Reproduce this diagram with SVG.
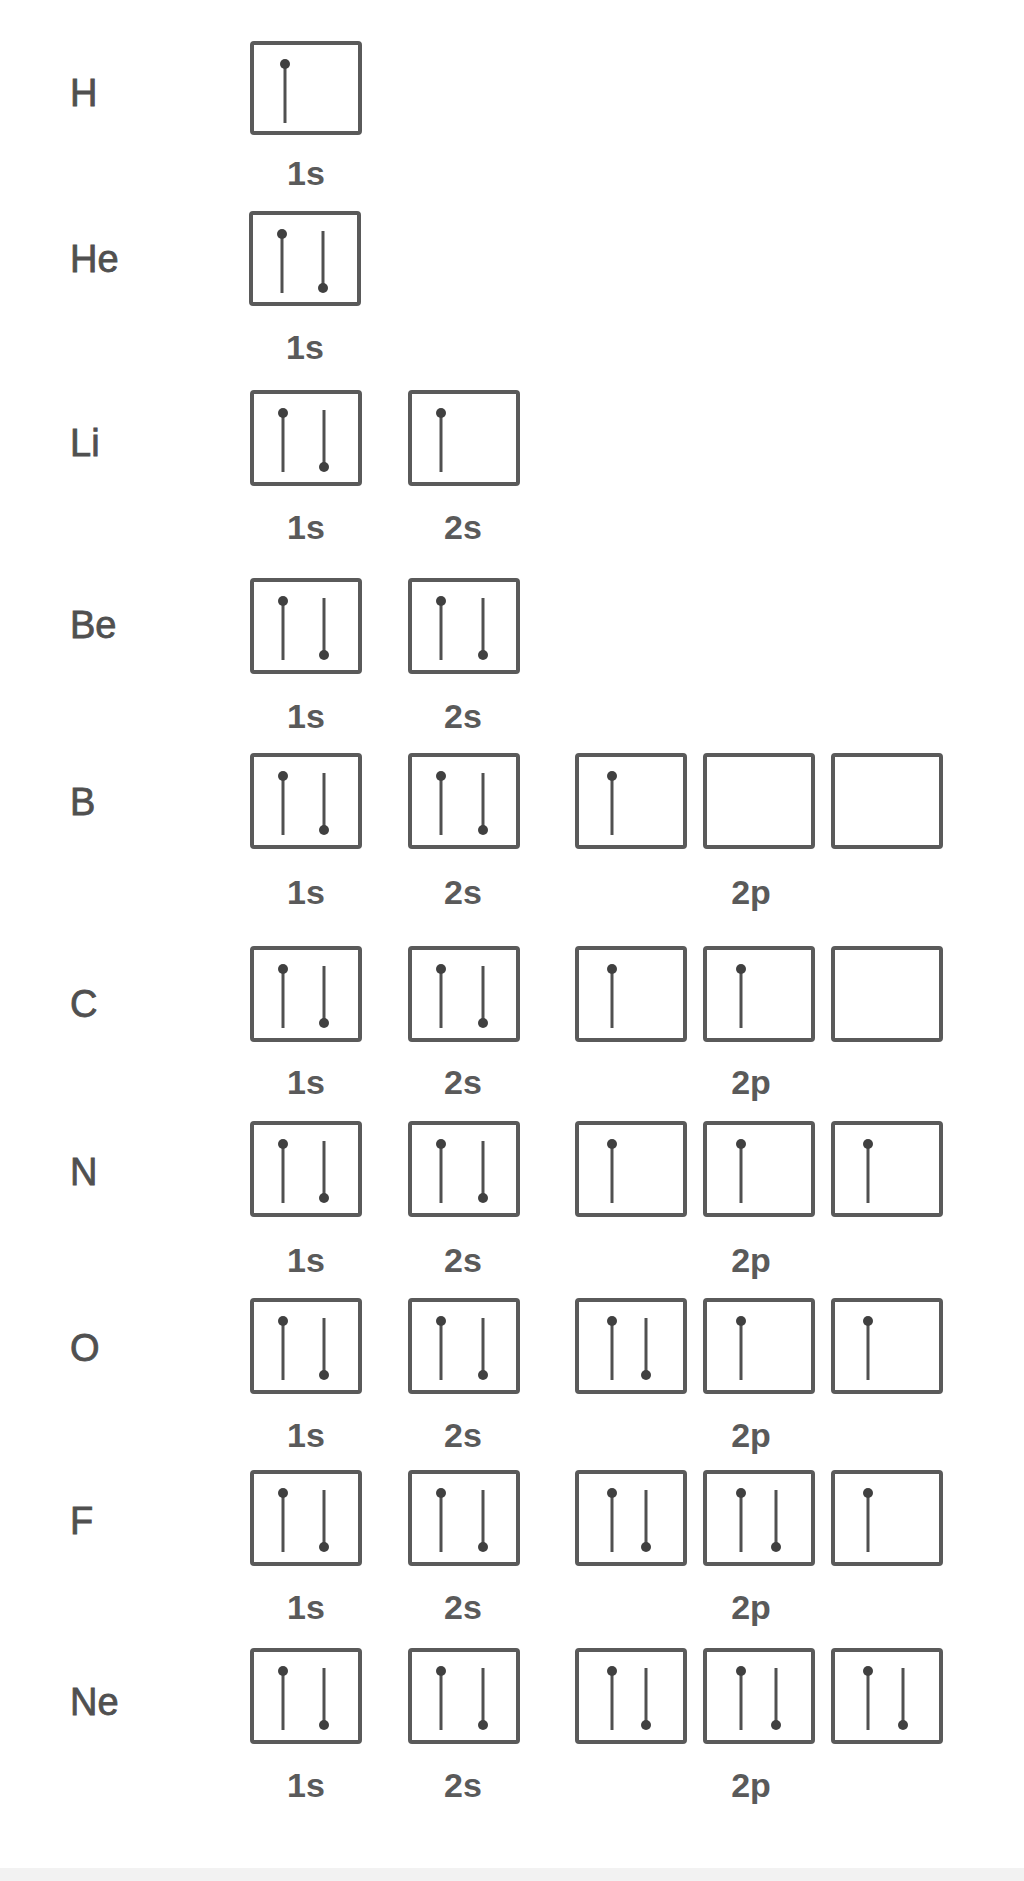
<svg xmlns="http://www.w3.org/2000/svg" xmlns:xlink="http://www.w3.org/1999/xlink" width="1024" height="1881" viewBox="0 0 1024 1881">
<style>
.bx{fill:none;stroke:#5a5a5a;stroke-width:4;}
.el{font-family:"Liberation Sans",Arial,sans-serif;font-size:38px;fill:#505050;stroke:#505050;stroke-width:0.8;}
.ob{font-family:"Liberation Sans",Arial,sans-serif;font-size:34px;fill:#5a5a5a;text-anchor:middle;font-weight:bold;}
.ar{stroke:#505050;stroke-width:3;fill:none;}
.hd{fill:#404040;}
</style>
<defs>
<g id="up"><line class="ar" x1="0" y1="21" x2="0" y2="80"/><circle class="hd" cx="0" cy="21" r="5"/></g>
<g id="dn"><line class="ar" x1="0" y1="18" x2="0" y2="75"/><circle class="hd" cx="0" cy="75" r="5"/></g>
</defs>
<rect x="0" y="0" width="1024" height="1881" fill="#ffffff"/>
<rect x="0" y="1868" width="1024" height="13" fill="#f2f2f2"/>

<g id="H">
<text class="el" x="70" y="106">H</text>
<rect class="bx" x="252" y="43" width="108" height="90" rx="2"/>
<use href="#up" x="285" y="43"/>
<text class="ob" x="306" y="185">1s</text>
</g>

<g id="He">
<text class="el" x="70" y="272">He</text>
<rect class="bx" x="251" y="213" width="108" height="91" rx="2"/>
<use href="#up" x="282" y="213"/><use href="#dn" x="323" y="213"/>
<text class="ob" x="305" y="359">1s</text>
</g>

<g id="Li">
<text class="el" x="70" y="456">Li</text>
<rect class="bx" x="252" y="392" width="108" height="92" rx="2"/>
<use href="#up" x="283" y="392"/><use href="#dn" x="324" y="392"/>
<rect class="bx" x="410" y="392" width="108" height="92" rx="2"/>
<use href="#up" x="441" y="392"/>
<text class="ob" x="306" y="539">1s</text>
<text class="ob" x="463" y="539">2s</text>
</g>

<g id="Be">
<text class="el" x="70" y="638">Be</text>
<rect class="bx" x="252" y="580" width="108" height="92" rx="2"/>
<use href="#up" x="283" y="580"/><use href="#dn" x="324" y="580"/>
<rect class="bx" x="410" y="580" width="108" height="92" rx="2"/>
<use href="#up" x="441" y="580"/><use href="#dn" x="483" y="580"/>
<text class="ob" x="306" y="728">1s</text>
<text class="ob" x="463" y="728">2s</text>
</g>

<g id="B">
<text class="el" x="70" y="815">B</text>
<rect class="bx" x="252" y="755" width="108" height="92" rx="2"/>
<use href="#up" x="283" y="755"/><use href="#dn" x="324" y="755"/>
<rect class="bx" x="410" y="755" width="108" height="92" rx="2"/>
<use href="#up" x="441" y="755"/><use href="#dn" x="483" y="755"/>
<rect class="bx" x="577" y="755" width="108" height="92" rx="2"/>
<use href="#up" x="612" y="755"/>
<rect class="bx" x="705" y="755" width="108" height="92" rx="2"/>
<rect class="bx" x="833" y="755" width="108" height="92" rx="2"/>
<text class="ob" x="306" y="904">1s</text>
<text class="ob" x="463" y="904">2s</text>
<text class="ob" x="751" y="904">2p</text>
</g>

<g id="C">
<text class="el" x="70" y="1017">C</text>
<rect class="bx" x="252" y="948" width="108" height="92" rx="2"/>
<use href="#up" x="283" y="948"/><use href="#dn" x="324" y="948"/>
<rect class="bx" x="410" y="948" width="108" height="92" rx="2"/>
<use href="#up" x="441" y="948"/><use href="#dn" x="483" y="948"/>
<rect class="bx" x="577" y="948" width="108" height="92" rx="2"/>
<use href="#up" x="612" y="948"/>
<rect class="bx" x="705" y="948" width="108" height="92" rx="2"/>
<use href="#up" x="741" y="948"/>
<rect class="bx" x="833" y="948" width="108" height="92" rx="2"/>
<text class="ob" x="306" y="1094">1s</text>
<text class="ob" x="463" y="1094">2s</text>
<text class="ob" x="751" y="1094">2p</text>
</g>

<g id="N">
<text class="el" x="70" y="1185">N</text>
<rect class="bx" x="252" y="1123" width="108" height="92" rx="2"/>
<use href="#up" x="283" y="1123"/><use href="#dn" x="324" y="1123"/>
<rect class="bx" x="410" y="1123" width="108" height="92" rx="2"/>
<use href="#up" x="441" y="1123"/><use href="#dn" x="483" y="1123"/>
<rect class="bx" x="577" y="1123" width="108" height="92" rx="2"/>
<use href="#up" x="612" y="1123"/>
<rect class="bx" x="705" y="1123" width="108" height="92" rx="2"/>
<use href="#up" x="741" y="1123"/>
<rect class="bx" x="833" y="1123" width="108" height="92" rx="2"/>
<use href="#up" x="868" y="1123"/>
<text class="ob" x="306" y="1272">1s</text>
<text class="ob" x="463" y="1272">2s</text>
<text class="ob" x="751" y="1272">2p</text>
</g>

<g id="O">
<text class="el" x="70" y="1361">O</text>
<rect class="bx" x="252" y="1300" width="108" height="92" rx="2"/>
<use href="#up" x="283" y="1300"/><use href="#dn" x="324" y="1300"/>
<rect class="bx" x="410" y="1300" width="108" height="92" rx="2"/>
<use href="#up" x="441" y="1300"/><use href="#dn" x="483" y="1300"/>
<rect class="bx" x="577" y="1300" width="108" height="92" rx="2"/>
<use href="#up" x="612" y="1300"/><use href="#dn" x="646" y="1300"/>
<rect class="bx" x="705" y="1300" width="108" height="92" rx="2"/>
<use href="#up" x="741" y="1300"/>
<rect class="bx" x="833" y="1300" width="108" height="92" rx="2"/>
<use href="#up" x="868" y="1300"/>
<text class="ob" x="306" y="1447">1s</text>
<text class="ob" x="463" y="1447">2s</text>
<text class="ob" x="751" y="1447">2p</text>
</g>

<g id="F">
<text class="el" x="70" y="1534">F</text>
<rect class="bx" x="252" y="1472" width="108" height="92" rx="2"/>
<use href="#up" x="283" y="1472"/><use href="#dn" x="324" y="1472"/>
<rect class="bx" x="410" y="1472" width="108" height="92" rx="2"/>
<use href="#up" x="441" y="1472"/><use href="#dn" x="483" y="1472"/>
<rect class="bx" x="577" y="1472" width="108" height="92" rx="2"/>
<use href="#up" x="612" y="1472"/><use href="#dn" x="646" y="1472"/>
<rect class="bx" x="705" y="1472" width="108" height="92" rx="2"/>
<use href="#up" x="741" y="1472"/><use href="#dn" x="776" y="1472"/>
<rect class="bx" x="833" y="1472" width="108" height="92" rx="2"/>
<use href="#up" x="868" y="1472"/>
<text class="ob" x="306" y="1619">1s</text>
<text class="ob" x="463" y="1619">2s</text>
<text class="ob" x="751" y="1619">2p</text>
</g>

<g id="Ne">
<text class="el" x="70" y="1715">Ne</text>
<rect class="bx" x="252" y="1650" width="108" height="92" rx="2"/>
<use href="#up" x="283" y="1650"/><use href="#dn" x="324" y="1650"/>
<rect class="bx" x="410" y="1650" width="108" height="92" rx="2"/>
<use href="#up" x="441" y="1650"/><use href="#dn" x="483" y="1650"/>
<rect class="bx" x="577" y="1650" width="108" height="92" rx="2"/>
<use href="#up" x="612" y="1650"/><use href="#dn" x="646" y="1650"/>
<rect class="bx" x="705" y="1650" width="108" height="92" rx="2"/>
<use href="#up" x="741" y="1650"/><use href="#dn" x="776" y="1650"/>
<rect class="bx" x="833" y="1650" width="108" height="92" rx="2"/>
<use href="#up" x="868" y="1650"/><use href="#dn" x="903" y="1650"/>
<text class="ob" x="306" y="1797">1s</text>
<text class="ob" x="463" y="1797">2s</text>
<text class="ob" x="751" y="1797">2p</text>
</g>

<g id="connectors"></g>
</svg>
